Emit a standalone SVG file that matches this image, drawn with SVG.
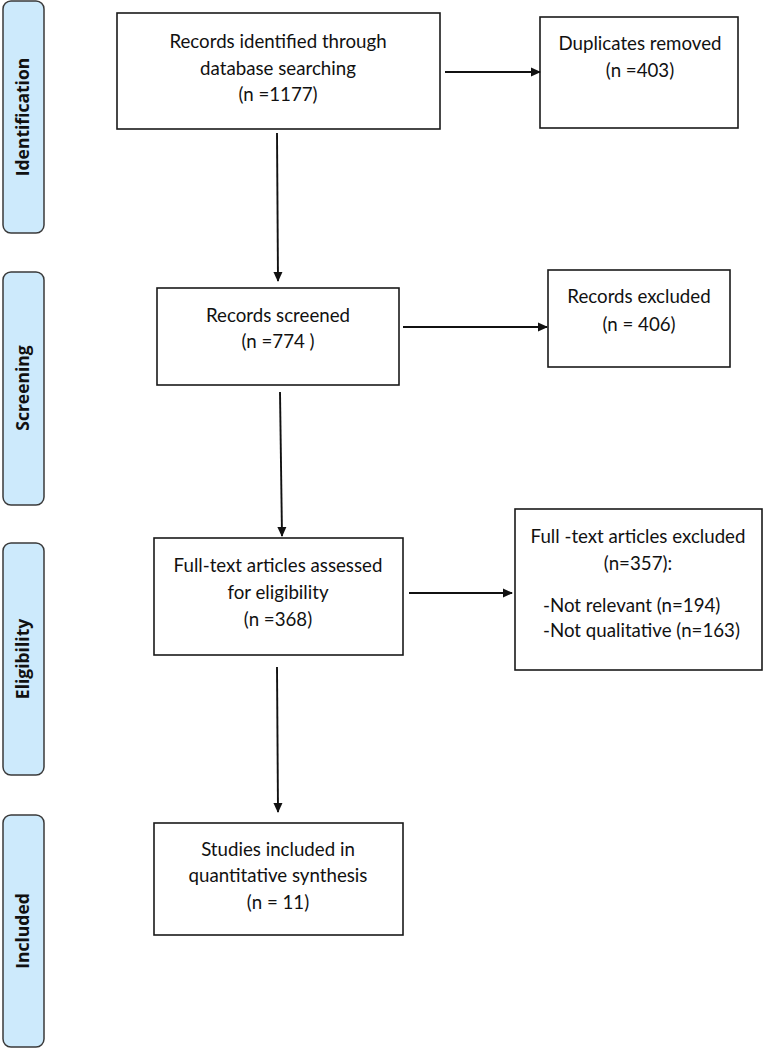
<svg xmlns="http://www.w3.org/2000/svg" width="763" height="1049" viewBox="0 0 763 1049">
<style>
.bar{fill:#cdeafc;stroke:#3a3a3a;stroke-width:1.5}
.bl{font-family:"Open Sans","DejaVu Sans",sans-serif;font-weight:bold;font-size:17.5px;fill:#111;text-anchor:middle}
.box{fill:#fff;stroke:#1a1a1a;stroke-width:1.6}
.t{font-family:Lato,"Liberation Sans",sans-serif;font-size:18.7px;fill:#111;text-anchor:middle}
.tl{font-family:Lato,"Liberation Sans",sans-serif;font-size:18.7px;fill:#111}
.c{stroke:#111;stroke-width:1.9;fill:none;marker-end:url(#ah)}
</style>
<defs>
<marker id="ah" markerWidth="10" markerHeight="10" refX="9" refY="5" orient="auto" markerUnits="userSpaceOnUse">
<path d="M0,0.5 L10,5 L0,9.5 Z" fill="#111"/>
</marker>
</defs>
<rect width="763" height="1049" fill="#fff"/>
<g id="phase-identification">
<rect class="bar" x="3" y="1" width="41" height="232" rx="8"/>
<text class="bl" transform="translate(29,117) rotate(-90)">Identification</text>
</g>
<g id="phase-screening">
<rect class="bar" x="3" y="272" width="41" height="233" rx="8"/>
<text class="bl" transform="translate(29,388) rotate(-90)">Screening</text>
</g>
<g id="phase-eligibility">
<rect class="bar" x="3" y="543" width="41" height="232" rx="8"/>
<text class="bl" transform="translate(29,659) rotate(-90)">Eligibility</text>
</g>
<g id="phase-included">
<rect class="bar" x="3" y="815" width="41" height="232" rx="8"/>
<text class="bl" transform="translate(29,931) rotate(-90)">Included</text>
</g>
<g id="node-identified">
<rect class="box" x="117" y="13" width="323" height="116"/>
<text class="t" x="278" y="48">Records identified through</text>
<text class="t" x="278" y="75">database searching</text>
<text class="t" x="278" y="101">(n =1177)</text>
</g>
<g id="node-duplicates">
<rect class="box" x="540" y="17" width="198" height="111"/>
<text class="t" x="640" y="50">Duplicates removed</text>
<text class="t" x="640" y="77">(n =403)</text>
</g>
<g id="node-screened">
<rect class="box" x="157" y="288" width="242" height="97"/>
<text class="t" x="278" y="322">Records screened</text>
<text class="t" x="278" y="348">(n =774 )</text>
</g>
<g id="node-records-excluded">
<rect class="box" x="548" y="270" width="182" height="97"/>
<text class="t" x="639" y="303">Records excluded</text>
<text class="t" x="639" y="331">(n = 406)</text>
</g>
<g id="node-assessed">
<rect class="box" x="154" y="538" width="249" height="117"/>
<text class="t" x="278" y="572">Full-text articles assessed</text>
<text class="t" x="278" y="599">for eligibility</text>
<text class="t" x="278" y="626">(n =368)</text>
</g>
<g id="node-fulltext-excluded">
<rect class="box" x="515" y="509" width="247" height="161"/>
<text class="t" x="638" y="543">Full -text articles excluded</text>
<text class="t" x="638" y="570">(n=357):</text>
<text class="tl" x="543" y="612">-Not relevant (n=194)</text>
<text class="tl" x="543" y="637">-Not qualitative (n=163)</text>
</g>
<g id="node-included">
<rect class="box" x="154" y="823" width="249" height="112"/>
<text class="t" x="278" y="856">Studies included in</text>
<text class="t" x="278" y="882">quantitative synthesis</text>
<text class="t" x="278" y="909">(n = 11)</text>
</g>
<g id="connectors">
<line class="c" x1="445" y1="72" x2="540" y2="72"/>
<line class="c" x1="277" y1="133" x2="278" y2="281"/>
<line class="c" x1="403" y1="327" x2="547" y2="327"/>
<line class="c" x1="280" y1="392" x2="282" y2="536"/>
<line class="c" x1="409" y1="593" x2="512" y2="593"/>
<line class="c" x1="277" y1="667" x2="278" y2="812"/>
</g>
</svg>
